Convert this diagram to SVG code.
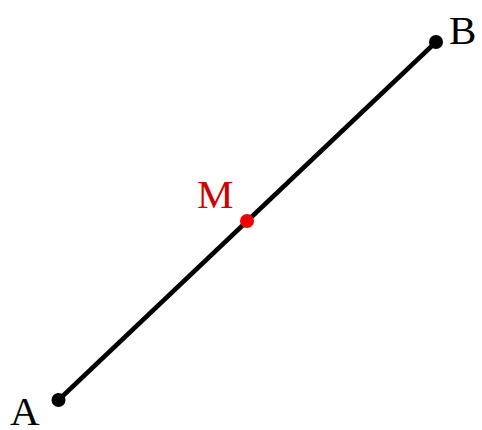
<svg xmlns="http://www.w3.org/2000/svg" width="482" height="430" viewBox="0 0 482 430">
<style>
.lbl{font-family:"Liberation Serif","DejaVu Serif",serif;font-size:41px;}
</style>
<rect width="482" height="430" fill="#fff"/>
<g id="connectors">
<line x1="58.5" y1="400" x2="436" y2="42" stroke="#000" stroke-width="4.5"/>
</g>
<g id="A"><circle cx="58.5" cy="400" r="7" fill="#000"/><text class="lbl" x="10" y="425" fill="#000">A</text></g>
<g id="B"><circle cx="436" cy="42" r="7" fill="#000"/><text class="lbl" x="449" y="44" fill="#000">B</text></g>
<g id="M"><circle cx="247" cy="221" r="7" fill="#e00"/><text class="lbl" x="197" y="208" fill="#c00">M</text></g>
</svg>
